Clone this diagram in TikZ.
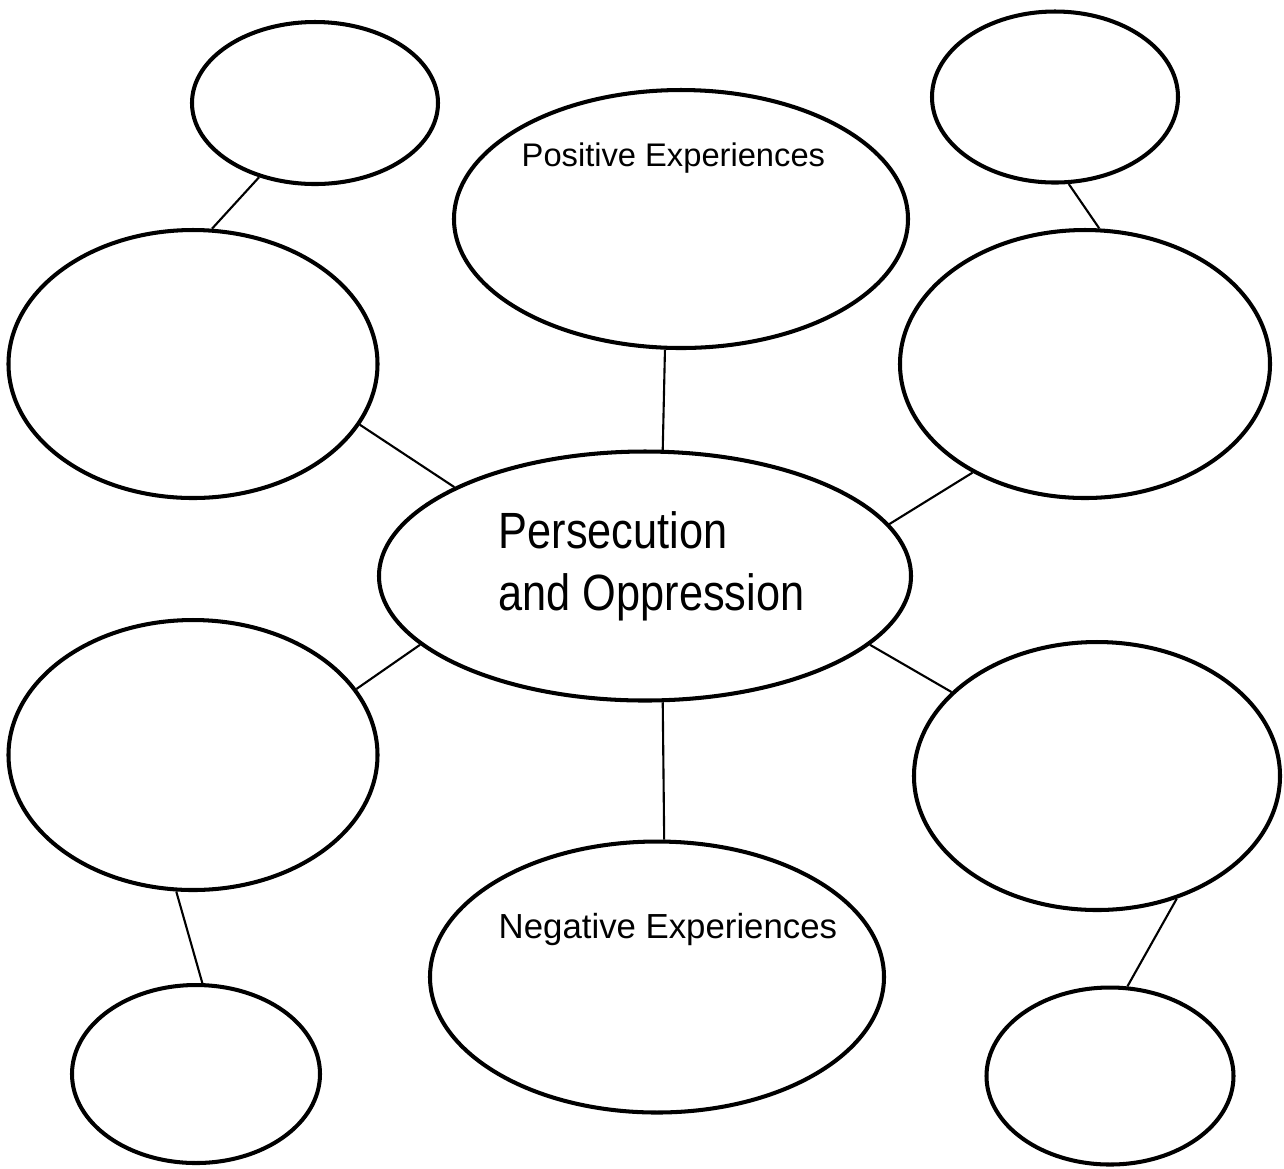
\documentclass[tikz,border=0pt]{standalone}
\usepackage{fontspec}
\setmainfont{Liberation Sans}
\newfontfamily\narrowsans{Liberation Sans}[FakeStretch=0.85]
\usetikzlibrary{shapes,positioning}

\begin{document}
\begin{tikzpicture}[bubble/.style={draw,ellipse,line width=1.15pt,inner sep=0pt},
                    link/.style={line width=0.6pt},
                    caption/.style={inner sep=0pt,anchor=base west}]
	\useasboundingbox (0,0) rectangle (12.84,-11.68);

	% the bubbles: name/x/y/width/height
	\foreach \name/\x/\y/\w/\h in
		{tlb/3.15/1.03/2.46/1.62, pos/6.81/2.19/4.54/2.58, trb/10.55/0.97/2.46/1.71,
		 lu/1.93/3.64/3.69/2.68, ru/10.85/3.64/3.70/2.68, core/6.45/5.76/5.32/2.49,
		 ll/1.93/7.55/3.69/2.70, rl/10.97/7.76/3.66/2.68, neg/6.57/9.77/4.54/2.71,
		 blb/1.96/10.74/2.48/1.78, brb/11.10/10.76/2.47/1.77}
		\node[bubble,minimum width=\w cm,minimum height=\h cm] (\name) at (\x,-\y) {};

	\node[caption,font=\fontsize{9.3}{11}\selectfont] (postext) at (5.21,-1.66) {Positive Experiences};
	\node[caption,font=\fontsize{9.9}{12}\selectfont] (negtext) at (4.98,-9.38) {Negative Experiences};
	\node[caption,align=left,font=\narrowsans\fontsize{14.5}{17.4}\selectfont] (coretext) at (4.98,-6.10)
		{Persecution\\and Oppression};

	% spokes
	\foreach \a/\b in {tlb.233/lu.82, lu.340/core.155, pos.263/core.82, trb.279/ru.84,
	                   ru.224/core.12, core.197/ll.22, core.343/rl.150, core.278/neg.87,
	                   ll.263/blb.86, rl.303/brb.79}
		\draw[link] (\a) -- (\b);
\end{tikzpicture}
\end{document}
